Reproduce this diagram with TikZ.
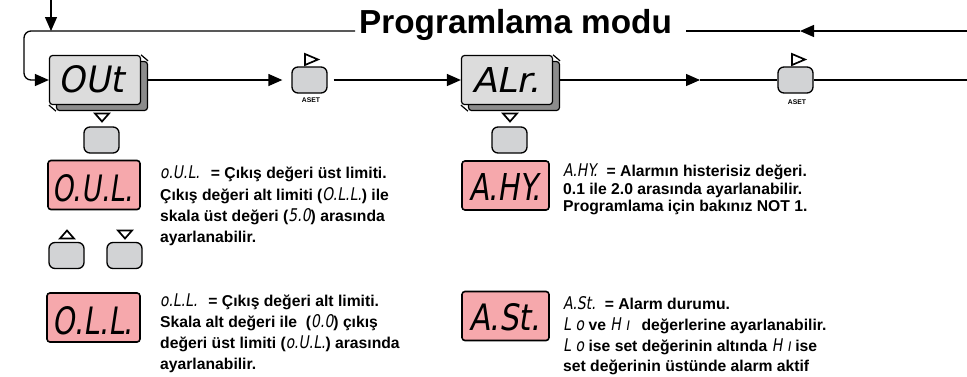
\documentclass[tikz,border=0pt]{standalone}
\usepackage{fontspec}
\usepackage{graphicx}
\setmainfont{Liberation Sans}
\newfontfamily\segfont[FakeSlant=0.2]{DejaVu Sans}
\usetikzlibrary{arrows.meta,calc}
\definecolor{pinkd}{RGB}{246,168,172}
\definecolor{btngray}{RGB}{210,211,213}
\definecolor{facegray}{RGB}{220,220,220}
\definecolor{sidegray}{RGB}{140,140,140}
\newcommand{\dseg}[3]{\resizebox{#1}{#2}{\segfont\mdseries #3}}
\newcommand{\iseg}[1]{{\segfont\mdseries\fontsize{17.5}{17.5}\selectfont\scalebox{0.8}[1]{#1}}}
\begin{document}
\begin{tikzpicture}[x=1pt,y=-1pt,
  conn/.style={line width=1.3pt},
  arr/.style={conn,-{Triangle[length=14pt,width=12pt]}},
  btn/.style={draw,line width=1.3pt,fill=btngray,rounded corners=6pt,minimum width=35pt,minimum height=26pt,inner sep=0},
  pinkdisp/.style={draw,line width=1.6pt,fill=pinkd,rounded corners=3pt,minimum height=49pt,inner sep=0},
  face/.style={draw,line width=1.2pt,fill=facegray,rounded corners=3pt,minimum width=91pt,minimum height=49pt,inner sep=0},
  side/.style={face,fill=sidegray},
  segtxt/.style={inner sep=0},
  desc/.style={anchor=base west,inner sep=0,font=\bfseries\fontsize{15.7}{18}\selectfont},
  aset/.style={inner sep=0,font=\bfseries\fontsize{6.8}{7}\selectfont},
  tri/.style={draw,line width=1.7pt,line join=miter}]
\useasboundingbox (0,0) rectangle (967,376);

% title
\node[anchor=base west,inner sep=0,font=\bfseries\fontsize{33.3}{34}\selectfont] (title) at (359,33) {Programlama modu};

% gray displays
\node[side] (outb) at (102,86) {};
\node[face] (out) at (95,80) {};
\draw[line width=1.2pt] (out.north east) -- (outb.north east);
\draw[line width=1.2pt] (out.south west) -- (outb.south west);
\node[segtxt] (outt) at (91,79) {\dseg{65pt}{27pt}{OUt}};

\node[side] (alrb) at (514,86) {};
\node[face] (alr) at (507,80) {};
\draw[line width=1.2pt] (alr.north east) -- (alrb.north east);
\draw[line width=1.2pt] (alr.south west) -- (alrb.south west);
\node[segtxt] (alrt) at (506,80) {\dseg{68pt}{25pt}{ALr.}};

% ASET buttons
\node[btn] (b1) at (309.5,80) {};
\node[btn] (b2) at (795.5,80) {};
\node[aset] (aset1) at (311,100) {ASET};
\node[aset] (aset2) at (797,102) {ASET};
\draw[tri] (305,54) -- (318,59.5) -- (305,65) -- cycle;
\draw[tri] (792,54) -- (805,59.5) -- (792,65) -- cycle;

% column 1
\node[btn] (bd1) at (101.5,140) {};
\draw[tri] (95,113.5) -- (109,113.5) -- (102,121.5) -- cycle;
\node[pinkdisp,minimum width=92pt] (oul) at (94,185) {};
\node[segtxt] (oult) at (93,188.5) {\dseg{80pt}{27pt}{O.U.L.}};
\node[btn] (bu) at (66.5,255.5) {};
\node[btn] (bdn) at (124.5,255.5) {};
\draw[tri] (60,238.5) -- (74,238.5) -- (67,230.5) -- cycle;
\draw[tri] (118,230.5) -- (132,230.5) -- (125,238.5) -- cycle;
\node[pinkdisp,minimum width=93pt] (oll) at (93.5,317.5) {};
\node[segtxt] (ollt) at (93,321) {\dseg{80pt}{28pt}{O.L.L.}};

% column 2
\node[btn] (bd2) at (509.5,140) {};
\draw[tri] (503,113.5) -- (517,113.5) -- (510,121.5) -- cycle;
\node[pinkdisp,minimum width=87pt] (ahy) at (505.5,185.5) {};
\node[segtxt] (ahyt) at (505,187) {\dseg{71pt}{27pt}{A.HY.}};
\node[pinkdisp,minimum width=87pt] (ast) at (505.5,316) {};
\node[segtxt] (astt) at (505,317) {\dseg{71pt}{27pt}{A.St.}};

% descriptions
\node[desc] (d1a) at (160,178) {\iseg{o.U.L.}\hspace{11pt}= Çıkış değeri üst limiti.};
\node[desc] (d1b) at (160,200) {Çıkış değeri alt limiti (\iseg{O.L.L.}) ile};
\node[desc] (d1c) at (160,221) {skala üst değeri (\iseg{5.0}) arasında};
\node[desc] (d1d) at (160,242) {ayarlanabilir.};

\node[desc] (d3a) at (160,306) {\iseg{o.L.L.}\hspace{11pt}= Çıkış değeri alt limiti.};
\node[desc] (d3b) at (160,327) {Skala alt değeri ile\ \ (\iseg{0.0}) çıkış};
\node[desc] (d3c) at (160,348) {değeri üst limiti (\iseg{o.U.L.}) arasında};
\node[desc] (d3d) at (160,369) {ayarlanabilir.};

\node[desc] (d2a) at (563,176) {\iseg{A.HY.}\hspace{9pt}= Alarmın histerisiz değeri.};
\node[desc] (d2b) at (563,194) {0.1 ile 2.0 arasında ayarlanabilir.};
\node[desc] (d2c) at (563,211) {Programlama için bakınız NOT 1.};

\node[desc] (d4a) at (563,309) {\iseg{A.St.}\hspace{9pt}= Alarm durumu.};
\node[desc] (d4b) at (563,330) {\iseg{L\,\,o} ve \iseg{H\,\,ı}\hspace{12pt}değerlerine ayarlanabilir.};
\node[desc] (d4c) at (563,351) {\iseg{L\,\,o} ise set değerinin altında \iseg{H\,\,ı} ise};
\node[desc] (d4d) at (563,371) {set değerinin üstünde alarm aktif};

% connectors
\coordinate (topin) at (51,0);
\coordinate (topj) at (51,31);
\coordinate (tl) at (355,31);
\coordinate (lc) at (24,80);
\coordinate (tr) at (686,31);
\coordinate (rtop) at (967,31);
\coordinate (rmid) at (800,31);
\coordinate (m2) at (700,80);
\coordinate (rend) at (967,80);
\draw[arr] (topin) -- (topj);
\draw[arr,rounded corners=7pt] (tl) -| (lc) -- (out.west);
\draw[arr] (rtop) -- (rmid);
\draw[conn] (rmid) -- (tr);
\draw[arr,shorten >=9pt] (out.east -| outb.east) -- (b1.west);
\draw[arr,shorten <=6pt] (b1.east) -- (alr.west);
\draw[arr] (alr.east -| alrb.east) -- (m2);
\draw[conn] (m2) -- (b2.west);
\draw[conn] (b2.east) -- (rend);
\end{tikzpicture}
\end{document}
